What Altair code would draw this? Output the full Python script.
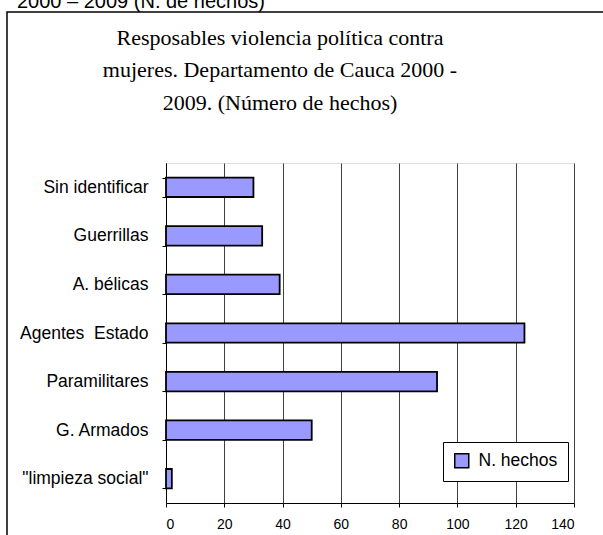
import altair as alt
import pandas as pd

# Perpetrator groups (top to bottom) and number of recorded events
responsables = [
    "Sin identificar",
    "Guerrillas",
    "A. bélicas",
    "Agentes\u00a0 Estado\u00a0",
    "Paramilitares",
    "G. Armados",
    "\"limpieza social\"",
]
hechos = [30, 33, 39, 123, 93, 50, 2]
serie = "N. hechos"
x_ticks = [0, 20, 40, 60, 80, 100, 120, 140]

titulo = [
    "Resposables violencia política contra",
    "mujeres. Departamento de Cauca 2000 -",
    "2009. (Número de hechos)",
]
encabezado = "2000 – 2009 (N. de hechos)"

df = pd.DataFrame({"responsable": responsables, "hechos": hechos, "serie": serie})

SANS = "Liberation Sans"
SERIF = "Liberation Serif"
BAR_FILL = "#9999FF"

bars = (
    alt.Chart(df)
    .mark_bar(stroke="black", strokeWidth=1.8)
    .encode(
        y=alt.Y(
            "responsable:N",
            sort=responsables,
            title=None,
            scale=alt.Scale(paddingInner=0.6, paddingOuter=0.3),
            axis=alt.Axis(
                tickBand="extent",
                tickSize=4,
                tickColor="black",
                domainColor="black",
                labelFont=SANS,
                labelFontSize=17.5,
                labelColor="black",
                labelPadding=14,
                grid=False,
            ),
        ),
        x=alt.X(
            "hechos:Q",
            title=None,
            scale=alt.Scale(domain=[0, 140], nice=False),
            axis=alt.Axis(
                values=x_ticks,
                tickSize=4,
                tickColor="black",
                domainColor="black",
                labelFont=SANS,
                labelFontSize=14,
                labelColor="black",
                labelPadding=10,
                grid=True,
                gridColor="#404040",
                gridWidth=1,
            ),
        ),
        color=alt.Color(
            "serie:N",
            scale=alt.Scale(range=[BAR_FILL]),
            legend=alt.Legend(
                title=None,
                orient="none",
                legendX=277,
                legendY=279,
                padding=10,
                strokeColor="black",
                fillColor="white",
                symbolType="square",
                symbolSize=196,
                symbolStrokeColor="black",
                symbolStrokeWidth=1.5,
                symbolOpacity=1,
                labelFont=SANS,
                labelFontSize=17.5,
                labelColor="black",
                labelOffset=8,
            ),
        ),
    )
)

# Frame around the whole chart area
frame = (
    alt.Chart(pd.DataFrame({"k": [0]}))
    .mark_rect(fill=None, stroke="black", strokeWidth=1.5)
    .encode(
        x=alt.value(-159),
        x2=alt.value(460),
        y=alt.value(-151),
        y2=alt.value(400),
    )
)

# Caption line partially cut at the top edge
caption = (
    alt.Chart(pd.DataFrame({"t": [encabezado]}))
    .mark_text(font=SANS, fontSize=20, align="left", baseline="alphabetic", color="black")
    .encode(text="t:N", x=alt.value(-149), y=alt.value(-155.5))
)

# Three-line serif heading, centred inside the frame
title_baselines = [-118, -86, -53]
title_layers = [
    alt.Chart(pd.DataFrame({"t": [line]}))
    .mark_text(font=SERIF, fontSize=22, align="center", baseline="alphabetic", color="black")
    .encode(text="t:N", x=alt.value(114), y=alt.value(yb))
    for line, yb in zip(titulo, title_baselines)
]

chart = (
    alt.layer(frame, caption, *title_layers, bars)
    .properties(
        width=408,
        height=340,
        padding={"left": 166, "top": 163, "right": 29, "bottom": 32},
        autosize=alt.AutoSizeParams(type="none"),
    )
    .configure_view(stroke=None)
    .configure(background="white")
)

chart.save("out.html", embed_options={"renderer": "svg", "actions": False})
